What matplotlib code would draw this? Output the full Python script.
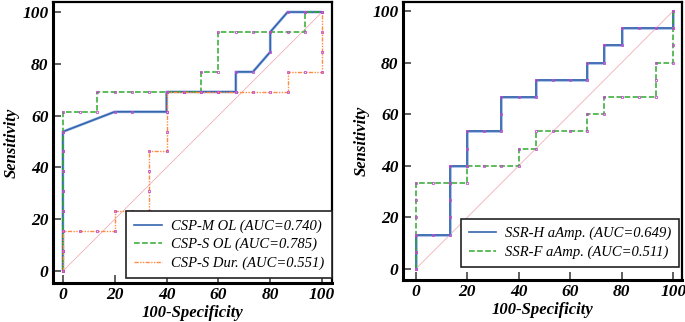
import matplotlib
matplotlib.use("Agg")
import matplotlib.pyplot as plt
import numpy as np

# ROC points (100-Specificity, Sensitivity)
cspm_x = [0, 0, 0, 0, 0, 0, 0, 0, 20, 26.7, 40, 40, 46.7, 53.3, 60, 66.7, 66.7, 73.3, 80, 80, 86.7, 93.3, 100]
cspm_y = [0, 7.7, 15.4, 23.1, 30.8, 38.5, 46.2, 53.8, 61.5, 61.5, 61.5, 69.2, 69.2, 69.2, 69.2, 69.2, 76.9, 76.9, 84.6, 92.3, 100, 100, 100]

csps_x = [0, 0, 0, 0, 0, 0, 0, 0, 0, 6.7, 13.3, 13.3, 20, 26.7, 33.3, 40, 46.7, 53.3, 53.3, 60, 60, 66.7, 73.3, 80, 86.7, 93.3, 93.3, 100]
csps_y = [0, 7.7, 15.4, 23.1, 30.8, 38.5, 46.2, 53.8, 61.5, 61.5, 61.5, 69.2, 69.2, 69.2, 69.2, 69.2, 69.2, 69.2, 76.9, 76.9, 92.3, 92.3, 92.3, 92.3, 92.3, 92.3, 100, 100]

cspd_x = [0, 0, 0, 6.7, 13.3, 20, 20, 26.7, 33.3, 33.3, 33.3, 33.3, 40, 40, 40, 40, 46.7, 53.3, 60, 66.7, 73.3, 80, 86.7, 86.7, 93.3, 100, 100, 100, 100]
cspd_y = [0, 7.7, 15.4, 15.4, 15.4, 15.4, 23.1, 23.1, 23.1, 30.8, 38.5, 46.2, 46.2, 53.8, 61.5, 69.2, 69.2, 69.2, 69.2, 69.2, 69.2, 69.2, 69.2, 76.9, 76.9, 76.9, 84.6, 92.3, 100]

ssrh_x = [0, 0, 0, 6.7, 13.3, 13.3, 13.3, 13.3, 13.3, 20, 20, 20, 26.7, 33.3, 33.3, 33.3, 40, 46.7, 46.7, 53.3, 60, 66.7, 66.7, 73.3, 73.3, 80, 80, 86.7, 93.3, 100, 100]
ssrh_y = [0, 6.7, 13.3, 13.3, 13.3, 20, 26.7, 33.3, 40, 40, 46.7, 53.3, 53.3, 53.3, 60, 66.7, 66.7, 66.7, 73.3, 73.3, 73.3, 73.3, 80, 80, 86.7, 86.7, 93.3, 93.3, 93.3, 93.3, 100]

ssrf_x = [0, 0, 0, 0, 0, 0, 6.7, 13.3, 20, 20, 26.7, 33.3, 40, 40, 46.7, 46.7, 53.3, 60, 66.7, 66.7, 73.3, 73.3, 80, 86.7, 93.3, 93.3, 93.3, 100, 100, 100, 100]
ssrf_y = [0, 6.7, 13.3, 20, 26.7, 33.3, 33.3, 33.3, 33.3, 40, 40, 40, 40, 46.7, 46.7, 53.3, 53.3, 53.3, 53.3, 60, 60, 66.7, 66.7, 66.7, 66.7, 73.3, 80, 80, 86.7, 93.3, 100]

left_labels = ["CSP-M OL (AUC=0.740)", "CSP-S OL (AUC=0.785)", "CSP-S Dur. (AUC=0.551)"]
right_labels = ["SSR-H aAmp. (AUC=0.649)", "SSR-F aAmp. (AUC=0.511)"]
ticks = [0, 20, 40, 60, 80, 100]

plt.rcParams["font.family"] = "Liberation Serif"

BLUE = "#3565ad"
GREEN = "#2fa82f"
ORANGE = "#ff8c42"
MAG = "#c84ad0"

fig = plt.figure(figsize=(6.85, 3.22), dpi=100)
ax1 = fig.add_axes([0.077, 0.121, 0.408, 0.873])
ax2 = fig.add_axes([0.588, 0.130, 0.408, 0.864])


def roc(ax, x, y, color, ls, lw, label, glow=False):
    if glow:
        ax.plot(x, y, color="#a8c2e8", lw=lw + 0.9, solid_capstyle="butt", zorder=2)
    ax.plot(x, y, color=color, ls=ls, lw=lw, label=label, zorder=3)
    ax.plot(x, y, ls="none", marker="s", ms=1.7, mfc="none", mec=MAG, mew=0.6, zorder=4)


def style(ax, xlim, ylim):
    ax.plot([0, 100], [0, 100], color="#f0b0b8", lw=0.6, zorder=1)
    ax.set_xlim(*xlim)
    ax.set_ylim(*ylim)
    ax.set_xticks(ticks)
    ax.set_yticks(ticks)
    ax.tick_params(direction="in", length=6, width=1.2, color="#444444",
                   top=False, right=False, pad=3)
    for lab in ax.get_xticklabels() + ax.get_yticklabels():
        lab.set_fontsize(12.5)
        lab.set_fontweight("bold")
        lab.set_fontstyle("italic")
    for side in ["left", "bottom"]:
        ax.spines[side].set_linewidth(2.2)
    for side in ["top", "right"]:
        ax.spines[side].set_linewidth(1.6)
    ax.set_xlabel("100-Specificity", fontsize=12, fontstyle="italic", fontweight="bold", labelpad=1)
    ax.set_ylabel("Sensitivity", fontsize=12, fontstyle="italic", fontweight="bold", labelpad=2)


def legend(ax, anchor):
    leg = ax.legend(loc="lower right", bbox_to_anchor=anchor, borderaxespad=0,
                    prop={"style": "italic", "size": 10.5}, frameon=True, fancybox=False,
                    handlelength=1.9, handletextpad=0.6, borderpad=0.55, labelspacing=0.35,
                    framealpha=1)
    leg.get_frame().set_edgecolor("#222222")
    leg.get_frame().set_linewidth(1.2)


roc(ax1, cspm_x, cspm_y, BLUE, "-", 1.2, left_labels[0], glow=True)
roc(ax1, csps_x, csps_y, GREEN, "--", 1.1, left_labels[1])
roc(ax1, cspd_x, cspd_y, ORANGE, (0, (3, 1, 1, 1, 1, 1)), 1.0, left_labels[2])
style(ax1, (-3.9, 103.9), (-4.6, 103.9))
legend(ax1, (1.0, 0.018))

roc(ax2, ssrh_x, ssrh_y, BLUE, "-", 1.2, right_labels[0], glow=True)
roc(ax2, ssrf_x, ssrf_y, GREEN, "--", 1.1, right_labels[1])
style(ax2, (-5.0, 103.5), (-4.3, 103.5))
legend(ax2, (0.99, 0.047))

fig.savefig("out.png", dpi=100)
